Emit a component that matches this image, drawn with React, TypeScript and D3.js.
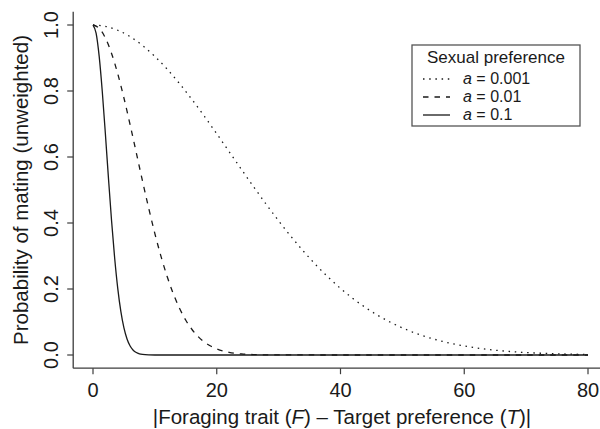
import React from "react";
import * as d3 from "d3";

// Distance between foraging trait and target preference
const xLow: number[] = [0, 2, 4, 6, 8, 10, 12, 14, 16, 18, 20, 22, 24, 26, 28, 30, 32, 34, 36, 38, 40, 42, 44, 46, 48, 50, 52, 54, 56, 58, 60, 62, 64, 66, 68, 70, 72, 74, 76, 78, 80];
// a = 0.001
const yLow: number[] = [1, 0.996, 0.9841, 0.9646, 0.938, 0.9048, 0.8659, 0.822, 0.7741, 0.7233, 0.6703, 0.6163, 0.5621, 0.5086, 0.4566, 0.4066, 0.3592, 0.3148, 0.2736, 0.236, 0.2019, 0.1714, 0.1443, 0.1205, 0.0999, 0.0821, 0.0669, 0.0542, 0.0435, 0.0346, 0.0273, 0.0214, 0.0166, 0.0128, 0.0098, 0.0074, 0.0056, 0.0042, 0.0031, 0.0023, 0.0017];

const xMid: number[] = [0, 1, 2, 3, 4, 5, 6, 7, 8, 9, 10, 11, 12, 13, 14, 15, 16, 17, 18, 19, 20, 22, 24, 26, 28, 30, 80];
// a = 0.01
const yMid: number[] = [1, 0.99, 0.9608, 0.9139, 0.8521, 0.7788, 0.6977, 0.6126, 0.5273, 0.4449, 0.3679, 0.2982, 0.2369, 0.1845, 0.1409, 0.1054, 0.0773, 0.0556, 0.0392, 0.0271, 0.0183, 0.0079, 0.0032, 0.0012, 0.0004, 0.0001, 0];

const xHigh: number[] = [0, 0.5, 1, 1.5, 2, 2.5, 3, 3.5, 4, 4.5, 5, 5.5, 6, 6.5, 7, 7.5, 8, 9, 10, 80];
// a = 0.1
const yHigh: number[] = [1, 0.9753, 0.9048, 0.7985, 0.6703, 0.5353, 0.4066, 0.2938, 0.2019, 0.132, 0.0821, 0.0486, 0.0273, 0.0146, 0.0074, 0.0036, 0.0017, 0.0003, 0, 0];

const xTicks: number[] = [0, 20, 40, 60, 80];
const yTicks: number[] = [0, 0.2, 0.4, 0.6, 0.8, 1.0];

const legendTitle = "Sexual preference";
const legendValues: string[] = ["0.001", "0.01", "0.1"];

const W = 600;
const H = 429;
const FONT = "'Liberation Sans', Arial, Helvetica, sans-serif";
const INK = "#1a1a1a";
const AXIS = "#3c3c3c";

const x = d3.scaleLinear().domain([0, 80]).range([93, 588]);
const y = d3.scaleLinear().domain([0, 1]).range([355, 25]);
// R-style 4% extension of the plotting region
const xLeft = x(-3.2);
const yTop = y(1.04);
const yBottom = y(-0.04);

const line = d3
  .line<[number, number]>()
  .x((d) => x(d[0]))
  .y((d) => y(d[1]))
  .curve(d3.curveMonotoneX);

const zip = (a: number[], b: number[]): [number, number][] => a.map((v, i) => [v, b[i]]);

const series = [
  { xs: xLow, ys: yLow, dash: "1.5,4.7" },
  { xs: xMid, ys: yMid, dash: "5.5,6" },
  { xs: xHigh, ys: yHigh, dash: "none" },
];

export default function App() {
  const fmt = d3.format(".1f");
  const lx = 412, ly = 45, lw = 168, lh = 81;
  const rowY = [79, 97, 115];
  return (
    <svg
      width={W}
      height={H}
      style={{ position: "absolute", left: 0, top: 0, background: "#fff" }}
      fontFamily={FONT}
    >
      {/* axes lines (L-shaped box) */}
      <line x1={xLeft} x2={xLeft} y1={yTop} y2={yBottom} stroke={AXIS} strokeWidth={1.3} />
      <line x1={xLeft} x2={W} y1={yBottom} y2={yBottom} stroke={AXIS} strokeWidth={1.3} />

      {yTicks.map((t) => (
        <g key={"y" + t}>
          <line x1={xLeft - 6} x2={xLeft} y1={y(t)} y2={y(t)} stroke={AXIS} strokeWidth={1.2} />
          <text
            transform={`translate(58,${y(t)}) rotate(-90)`}
            textAnchor="middle"
            fontSize={20}
            fill={INK}
          >
            {fmt(t)}
          </text>
        </g>
      ))}

      {xTicks.map((t) => (
        <g key={"x" + t}>
          <line x1={x(t)} x2={x(t)} y1={yBottom} y2={yBottom + 6} stroke={AXIS} strokeWidth={1.2} />
          <text x={x(t)} y={397} textAnchor="middle" fontSize={20} fill={INK}>
            {t}
          </text>
        </g>
      ))}

      <text
        transform={`translate(28,${(yTop + yBottom) / 2}) rotate(-90)`}
        textAnchor="middle"
        fontSize={20.5}
        fill={INK}
      >
        Probability of mating (unweighted)
      </text>

      <text x={342} y={424} textAnchor="middle" fontSize={20.5} fill={INK}>
        |Foraging trait (<tspan fontStyle="italic">F</tspan>) – Target preference (
        <tspan fontStyle="italic">T</tspan>)|
      </text>

      {series.map((s, i) => (
        <path
          key={i}
          d={line(zip(s.xs, s.ys)) || ""}
          fill="none"
          stroke={INK}
          strokeWidth={1.3}
          strokeDasharray={s.dash}
        />
      ))}

      {/* legend */}
      <rect x={lx} y={ly} width={lw} height={lh} fill="#fff" stroke="#555" strokeWidth={1.3} />
      <text x={lx + lw / 2} y={63} textAnchor="middle" fontSize={17} fill={INK}>
        {legendTitle}
      </text>
      {legendValues.map((v, i) => (
        <g key={v}>
          <line
            x1={423}
            x2={450}
            y1={rowY[i]}
            y2={rowY[i]}
            stroke={INK}
            strokeWidth={1.3}
            strokeDasharray={series[i].dash}
          />
          <text x={463} y={rowY[i] + 5} fontSize={16} fill={INK}>
            <tspan fontStyle="italic">a</tspan> = {v}
          </text>
        </g>
      ))}
    </svg>
  );
}
